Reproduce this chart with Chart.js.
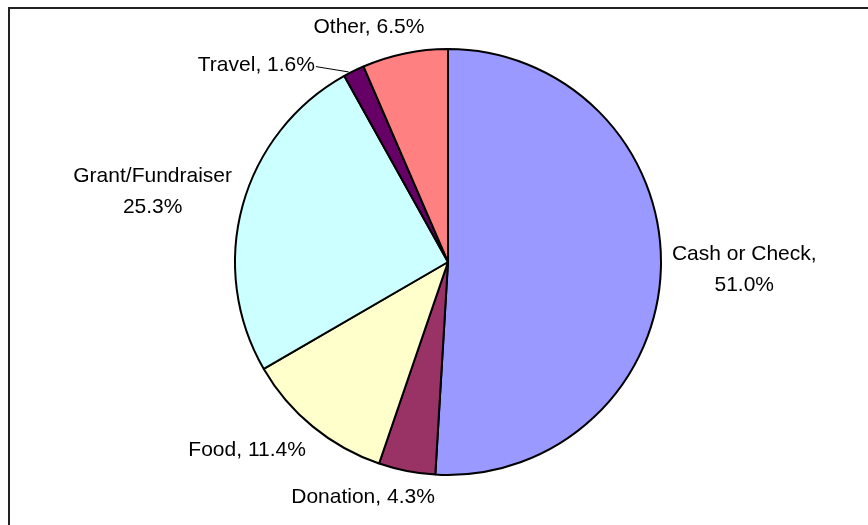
<!DOCTYPE html>
<html lang="en">
<head>
<meta charset="UTF-8">
<title>Income Sources</title>
<script src="https://cdn.jsdelivr.net/npm/chart.js"></script>
<style>
    body {
        margin: 0;
        background: #fff;
    }

    canvas {
        display: block;
    }
</style>
</head>
<body>
<canvas id="incomeChart" width="868" height="525"></canvas>
<script>
    const categories = ["Cash or Check", "Donation", "Food", "Grant/Fundraiser", "Travel", "Other"];
    const shares = [51.0, 4.3, 11.4, 25.3, 1.6, 6.5];
    const sliceColors = ["#9999FF", "#993366", "#FFFFCC", "#CCFFFF", "#660066", "#FF8080"];

    // label text: name and percent, long names go on two lines
    function labelLines(i) {
        const pct = shares[i].toFixed(1) + "%";
        if (categories[i] === "Cash or Check") return [categories[i] + ",", pct];
        if (categories[i] === "Grant/Fundraiser") return [categories[i], pct];
        return [categories[i] + ", " + pct];
    }

    function clamp(v) {
        return Math.max(-1, Math.min(1, v));
    }

    // frame round the chart (only top and left edges fall inside the canvas)
    const frame = {
        id: "frame",
        beforeDraw(chart) {
            const ctx = chart.ctx;
            ctx.save();
            ctx.fillStyle = "#fff";
            ctx.fillRect(0, 0, chart.width, chart.height);
            ctx.strokeStyle = "#222";
            ctx.lineWidth = 2;
            ctx.strokeRect(9, 8, 1000, 1000);
            ctx.restore();
        }
    };

    // data labels outside the slices
    const outsideLabels = {
        id: "outsideLabels",
        afterDatasetsDraw(chart, args, opts) {
            const ctx = chart.ctx;
            const meta = chart.getDatasetMeta(0);
            ctx.save();
            ctx.font = opts.font;
            ctx.fillStyle = "#000";
            ctx.strokeStyle = "#000";
            ctx.lineWidth = 1;
            ctx.textAlign = "center";
            ctx.textBaseline = "middle";
            meta.data.forEach((arc, i) => {
                const p = arc.getProps(["x", "y", "startAngle", "endAngle", "outerRadius"], true);
                const mid = (p.startAngle + p.endAngle) / 2;
                const dx = Math.cos(mid), dy = Math.sin(mid);
                const lines = labelLines(i);
                const w = Math.max(...lines.map(l => ctx.measureText(l).width));
                const h = lines.length * opts.lineHeight;
                const ax = p.x + dx * (p.outerRadius + opts.gap);
                const ay = p.y + dy * (p.outerRadius + opts.gap);
                let cx = ax + clamp(dx * 3) * w / 2;
                let cy = ay + clamp(dy * 1.3) * h / 2;
                const nudge = opts.nudge[i];
                if (nudge) {
                    cx += nudge[0];
                    cy += nudge[1];
                    ctx.beginPath();
                    ctx.moveTo(cx + w / 2 + 1, cy + 1);
                    ctx.lineTo(p.x + dx * p.outerRadius - 5, p.y + dy * p.outerRadius + 1);
                    ctx.stroke();
                }
                lines.forEach((l, k) => {
                    ctx.fillText(l, cx, cy - h / 2 + opts.lineHeight * (k + 0.5));
                });
            });
            ctx.restore();
        }
    };

    new Chart(document.getElementById("incomeChart"), {
        type: "pie",
        data: {
            labels: categories,
            datasets: [{
                data: shares,
                backgroundColor: sliceColors,
                borderColor: "#000",
                borderWidth: 2
            }]
        },
        options: {
            responsive: false,
            animation: false,
            events: [],
            layout: { padding: { top: 47, bottom: 48, left: 234, right: 206 } },
            plugins: {
                legend: { display: false },
                tooltip: { enabled: false },
                outsideLabels: {
                    font: "21px 'Liberation Sans', Arial, sans-serif",
                    lineHeight: 31,
                    gap: 11,
                    nudge: { 4: [-34, 20] }
                }
            }
        },
        plugins: [frame, outsideLabels]
    });
</script>
</body>
</html>
